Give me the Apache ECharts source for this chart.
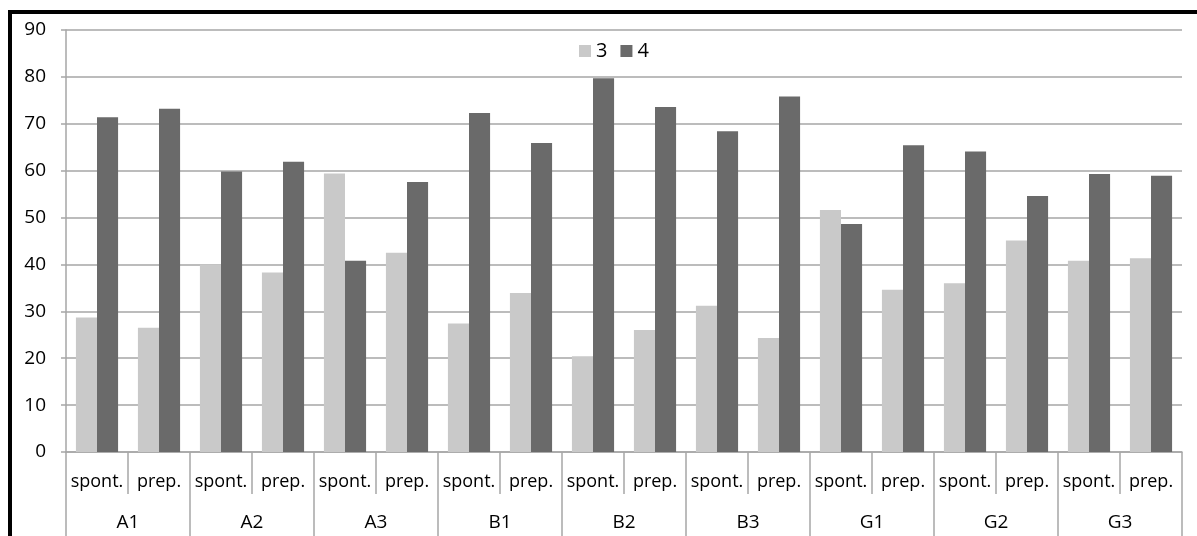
<!DOCTYPE html>
<html>
<head>
<meta charset="utf-8">
<script src="https://cdn.jsdelivr.net/npm/echarts@6/dist/echarts.min.js"></script>
<style>
html,body{margin:0;padding:0;background:#fff;}
#chart{width:1197px;height:536px;}
</style>
</head>
<body>
<div id="chart"></div>
<script>
var groups = ['A1','A2','A3','B1','B2','B3','G1','G2','G3'];
var modes = ['spont.','prep.'];
var series3 = [28.7,26.5, 40.0,38.3, 59.4,42.5, 27.4,33.9, 20.4,26.0, 31.2,24.3, 51.6,34.6, 36.0,45.1, 40.8,41.3];
var series4 = [71.4,73.2, 59.8,61.9, 40.8,57.6, 72.3,65.9, 79.7,73.6, 68.4,75.8, 48.6,65.4, 64.1,54.6, 59.3,58.9];
var yTicks = [0,10,20,30,40,50,60,70,80,90];

var subCats = [];
groups.forEach(function(g){ modes.forEach(function(m){ subCats.push(m); }); });

var font = '"Open Sans", Lato, sans-serif';
var chart = echarts.init(document.getElementById('chart'));
chart.setOption({
  animation: false,
  backgroundColor: '#fff',
  textStyle: {fontFamily: font},
  legend: {
    top: 36, left: 574,
    itemWidth: 12, itemHeight: 12, itemGap: 13,
    icon: 'rect',
    textStyle: {fontSize: 20, color: '#000', fontFamily: font},
    data: ['3','4']
  },
  grid: {left: 66, right: 15, top: 30, bottom: 84, containLabel: false},
  xAxis: [
    {
      type: 'category', data: subCats, position: 'bottom',
      axisLine: {show: true, lineStyle: {color: '#a6a6a6', width: 1.5}},
      axisTick: {show: true, interval: 0, length: 42, lineStyle: {color: '#a6a6a6', width: 1.5}},
      axisLabel: {interval: 0, margin: 21, fontSize: 18, color: '#000', fontFamily: font, hideOverlap: false}
    },
    {
      type: 'category', data: groups, position: 'bottom',
      axisLine: {show: false},
      axisTick: {show: true, interval: 0, length: 84, lineStyle: {color: '#a6a6a6', width: 1.5}},
      axisLabel: {interval: 0, margin: 61, fontSize: 19, color: '#000', fontFamily: font}
    }
  ],
  yAxis: {
    type: 'value', min: 0, max: 90, interval: 10,
    axisLine: {show: true, lineStyle: {color: '#a6a6a6', width: 1.5}},
    axisTick: {show: true, length: 5, lineStyle: {color: '#a6a6a6', width: 1.5}},
    splitLine: {show: true, lineStyle: {color: '#a6a6a6', width: 1.5}},
    axisLabel: {
      margin: 20, fontSize: 19, color: '#000', fontFamily: font,
      formatter: function(v){ return yTicks.indexOf(v) >= 0 ? String(v) : ''; }
    }
  },
  series: [
    {name: '3', type: 'bar', xAxisIndex: 0, data: series3, barGap: '0%', barCategoryGap: '32%',
     itemStyle: {color: '#c9c9c9'}},
    {name: '4', type: 'bar', xAxisIndex: 0, data: series4, barGap: '0%', barCategoryGap: '32%',
     itemStyle: {color: '#6a6a6a'}}
  ],
  graphic: [
    {type: 'rect', shape: {x: 8, y: 10, width: 1189, height: 4}, style: {fill: '#000'}, silent: true},
    {type: 'rect', shape: {x: 8, y: 10, width: 4, height: 526}, style: {fill: '#000'}, silent: true}
  ]
});
</script>
</body>
</html>
